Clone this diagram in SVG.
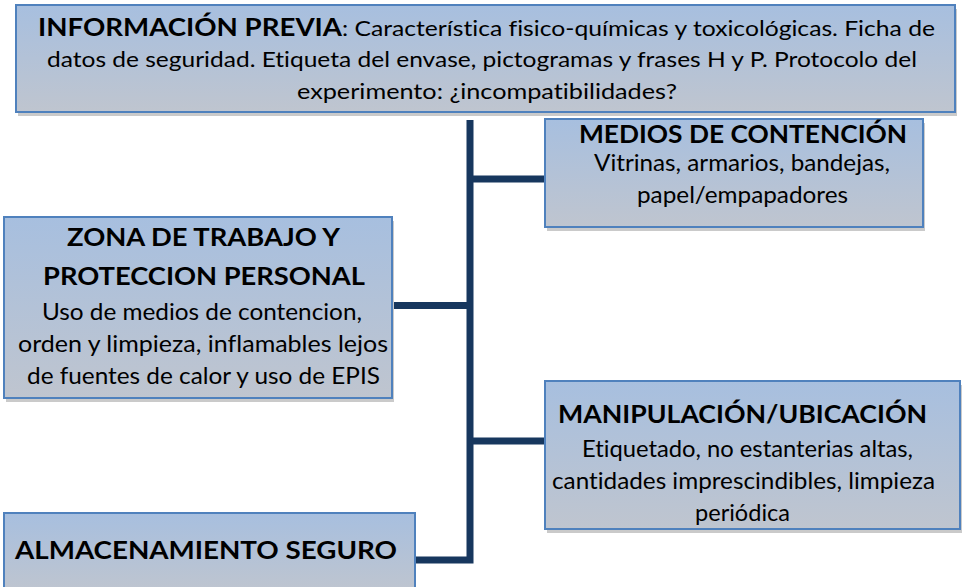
<svg xmlns="http://www.w3.org/2000/svg" width="978" height="587" viewBox="0 0 978 587">
<defs>
<linearGradient id="g" x1="0" y1="0" x2="0" y2="1">
<stop offset="0" stop-color="#a7bfdf"/>
<stop offset="1" stop-color="#bfc5cf"/>
</linearGradient>
</defs>
<style>
.box{fill:url(#g);stroke:#4f81bd;stroke-width:2}
.sh{fill:#cacaca}
text{font-family:Lato,"Open Sans","Liberation Sans",sans-serif;fill:#000;font-variant-ligatures:none}
.h{font-weight:bold;font-size:25px}
.t{font-size:23px}
.ts{font-size:21px}
.c{fill:none;stroke:#17375e;stroke-width:7;stroke-linejoin:miter}
</style>
<rect width="978" height="587" fill="#fff"/>
<g id="connectors">
<path class="c" d="M470,120 L470,560 L415,560"/>
<path class="c" d="M470,179 H545"/>
<path class="c" d="M392,305.5 H470"/>
<path class="c" d="M470,441 H545"/>
</g>
<g id="info">
<rect class="sh" x="18" y="9" width="939" height="107"/>
<rect class="box" x="16" y="5" width="939" height="107"/>
<text y="36"><tspan class="h" x="38" textLength="304" lengthAdjust="spacingAndGlyphs">INFORMACIÓN PREVIA</tspan></text>
<text class="ts" x="342" y="36" textLength="593" lengthAdjust="spacingAndGlyphs">: Característica fisico-químicas y toxicológicas. Ficha de</text>
<text class="ts" x="47" y="67" textLength="870" lengthAdjust="spacingAndGlyphs">datos de seguridad. Etiqueta del envase, pictogramas y frases H y P. Protocolo del</text>
<text class="ts" x="297" y="99" textLength="380" lengthAdjust="spacingAndGlyphs">experimento: ¿incompatibilidades?</text>
</g>
<g id="medios">
<rect class="sh" x="547" y="123" width="378" height="108"/>
<rect class="box" x="545" y="119" width="378" height="108"/>
<text class="h" x="579" y="143" textLength="328" lengthAdjust="spacingAndGlyphs">MEDIOS DE CONTENCIÓN</text>
<text class="t" x="594" y="171" textLength="296" lengthAdjust="spacingAndGlyphs">Vitrinas, armarios, bandejas,</text>
<text class="t" x="637" y="203" textLength="211" lengthAdjust="spacingAndGlyphs">papel/empapadores</text>
</g>
<g id="zona">
<rect class="sh" x="6" y="221" width="388" height="181"/>
<rect class="box" x="4" y="217" width="388" height="181"/>
<text class="h" x="67" y="246" textLength="273" lengthAdjust="spacingAndGlyphs">ZONA DE TRABAJO Y</text>
<text class="h" x="43" y="285" textLength="322" lengthAdjust="spacingAndGlyphs">PROTECCION PERSONAL</text>
<text class="t" x="42" y="320" textLength="320" lengthAdjust="spacingAndGlyphs">Uso de medios de contencion,</text>
<text class="t" x="18" y="352" textLength="370" lengthAdjust="spacingAndGlyphs">orden y limpieza, inflamables lejos</text>
<text class="t" x="27" y="384" textLength="353" lengthAdjust="spacingAndGlyphs">de fuentes de calor y uso de EPIS</text>
</g>
<g id="manipulacion">
<rect class="sh" x="547" y="385" width="415" height="148"/>
<rect class="box" x="545" y="381" width="415" height="148"/>
<text class="h" x="558" y="423" textLength="369" lengthAdjust="spacingAndGlyphs">MANIPULACIÓN/UBICACIÓN</text>
<text class="t" x="582" y="457" textLength="331" lengthAdjust="spacingAndGlyphs">Etiquetado, no estanterias altas,</text>
<text class="t" x="552" y="489" textLength="383" lengthAdjust="spacingAndGlyphs">cantidades imprescindibles, limpieza</text>
<text class="t" x="695" y="521" textLength="95" lengthAdjust="spacingAndGlyphs">periódica</text>
</g>
<g id="almacenamiento">
<rect class="box" x="4" y="513" width="411" height="80"/>
<text class="h" x="15" y="559" textLength="382" lengthAdjust="spacingAndGlyphs">ALMACENAMIENTO SEGURO</text>
</g>
</svg>
